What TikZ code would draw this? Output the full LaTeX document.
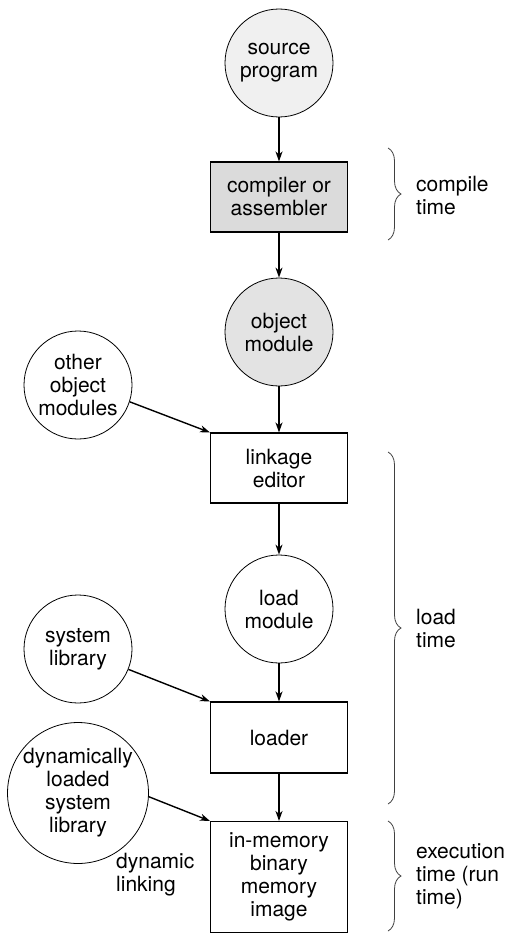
\documentclass[tikz,border=0pt]{standalone}
\usepackage{fontspec}
\setmainfont{TeX Gyre Heros}
\usetikzlibrary{arrows.meta,decorations.pathreplacing}

\begin{document}
\begin{tikzpicture}[x=1pt,y=-1pt,
  font=\fontsize{21}{23}\selectfont,
  disk/.style={circle,draw,line width=0.8pt,minimum size=108pt,inner sep=0pt,align=center},
  stage/.style={rectangle,draw,line width=1.1pt,minimum width=137pt,minimum height=70pt,inner sep=0pt,align=center},
  flow/.style={line width=1.4pt,-{Stealth[length=10pt,width=7pt,inset=3pt]}},
  span/.style={decorate,decoration={brace,amplitude=13pt},line width=0.8pt,black!75}]
  \useasboundingbox (0,0) rectangle (509,934);
  % main column, top to bottom
  \node[disk,fill=gray!12] (src) at (279,63) {source\\program};
  \node[stage,fill=gray!28] (comp) at (279,197) {compiler or\\assembler};
  \node[disk,fill=gray!22] (obj) at (279,332) {object\\module};
  \node[stage] (link) at (279,468) {linkage\\editor};
  \node[disk] (loadm) at (279,609) {load\\module};
  \node[stage,minimum height=71pt] (ldr) at (279,737.5) {loader};
  \node[stage,minimum height=111pt] (mem) at (279,877) {in-memory\\binary\\memory\\image};
  % inputs on the left
  \node[disk] (other) at (78,385) {other\\object\\modules};
  \node[disk] (syslib) at (78,649) {system\\library};
  \node[disk,minimum size=126pt] (dyn) at (78,793) {dynamically\\loaded\\system\\library};
  \node[anchor=north west,align=left,inner sep=0pt] (dlink) at (116,853) {dynamic\\linking};
  \draw[flow] (src) -- (comp);
  \draw[flow] (comp) -- (obj);
  \draw[flow] (obj) -- (link);
  \draw[flow] (link) -- (loadm);
  \draw[flow] (loadm) -- (ldr);
  \draw[flow] (ldr) -- (mem);
  \draw[flow] (other.-18) -- (link.north west);
  \draw[flow] (syslib.-22) -- (ldr.north west);
  \draw[flow] (dyn.-3) -- (mem.north west);
  % binding times
  \draw[span] (388,148) -- (388,240);
  \draw[span] (388,452) -- (388,804);
  \draw[span] (388,821) -- (388,931);
  \node[anchor=west,align=left,inner sep=0pt] (tcomp) at (416,196) {compile\\time};
  \node[anchor=west,align=left,inner sep=0pt] (tload) at (416,628) {load\\time};
  \node[anchor=west,align=left,inner sep=0pt] (texec) at (416,876) {execution\\time (run\\time)};
\end{tikzpicture}
\end{document}
